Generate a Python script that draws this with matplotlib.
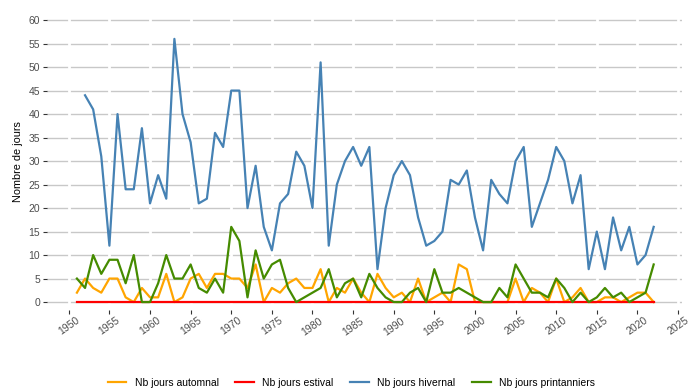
import matplotlib.pyplot as plt
import numpy as np

plt.rcParams['font.family'] = ['Liberation Sans', 'DejaVu Sans']

# years
annees = list(range(1951, 2023))
annees_hiver = list(range(1952, 2023))

# nombre de jours par saison
automnal = [2, 5, 3, 2, 5, 5, 1, 0, 3, 1, 1, 6, 0, 1, 5, 6, 3, 6, 6, 5,
            5, 3, 8, 0, 3, 2, 4, 5, 3, 3, 7, 0, 3, 2, 5, 2, 0, 6, 3, 1,
            2, 0, 5, 0, 1, 2, 0, 8, 7, 0, 0, 0, 0, 0, 5, 0, 3, 2, 0, 5,
            0, 1, 3, 0, 0, 1, 1, 0, 1, 2, 2, 0]
estival = [0] * len(annees)
hivernal = [44, 41, 31, 12, 40, 24, 24, 37, 21, 27, 22, 56, 40, 34, 21, 22,
            36, 33, 45, 45, 20, 29, 16, 11, 21, 23, 32, 29, 20, 51, 12, 25,
            30, 33, 29, 33, 7, 20, 27, 30, 27, 18, 12, 13, 15, 26, 25, 28,
            18, 11, 26, 23, 21, 30, 33, 16, 21, 26, 33, 30, 21, 27, 7, 15,
            7, 18, 11, 16, 8, 10, 16]
printanniers = [5, 3, 10, 6, 9, 9, 4, 10, 0, 0, 4, 10, 5, 5, 8, 3, 2, 5, 2, 16,
                13, 1, 11, 5, 8, 9, 3, 0, 1, 2, 3, 7, 1, 4, 5, 1, 6, 3, 1, 0,
                0, 2, 3, 0, 7, 2, 2, 3, 2, 1, 0, 0, 3, 1, 8, 5, 2, 2, 1, 5,
                3, 0, 2, 0, 1, 3, 1, 2, 0, 1, 2, 8]

fig = plt.figure(figsize=(6.89, 3.90), dpi=100)
ax = fig.add_axes([0.068, 0.205, 0.922, 0.764])

ax.plot(annees, automnal, color='#FFA500', lw=1.6, label='Nb jours automnal')
ax.plot(annees, estival, color='#FF0000', lw=1.6, label='Nb jours estival')
ax.plot(annees_hiver, hivernal, color='#4682B4', lw=1.6, label='Nb jours hivernal')
ax.plot(annees, printanniers, color='#458B00', lw=1.6, label='Nb jours printanniers')

ax.set_xlim(1947.3, 2025.5)
ax.set_ylim(-1.7, 61.7)
ax.set_yticks(np.arange(0, 61, 5))
ax.set_xticks(np.arange(1950, 2026, 5))

# grid: gray horizontal lines, white vertical lines on top cutting them
for y in np.arange(0, 61, 5):
    ax.axhline(y, color='#c8c8c8', lw=1.0, zorder=0)
for x in np.arange(1950, 2026, 5):
    ax.axvline(x, color='white', lw=2.0, zorder=0.5)

for s in ax.spines.values():
    s.set_visible(False)

ax.tick_params(axis='y', length=3, width=0.8, color='#333333', labelsize=7.5,
               labelcolor='#4d4d4d', pad=2)
ax.tick_params(axis='x', length=3, width=0.8, color='#333333', labelsize=7.5,
               labelcolor='#4d4d4d', pad=1)
for lab in ax.get_xticklabels():
    lab.set_rotation(35)
    lab.set_ha('center')

ax.set_ylabel('Nombre de jours', fontsize=7.8, color='black', labelpad=4)

fig.legend(loc='center', bbox_to_anchor=(0.51, 0.018), ncol=4, frameon=False,
           fontsize=7.5, handlelength=1.8, columnspacing=1.6, handletextpad=0.8)

fig.savefig('out.png', dpi=100)
